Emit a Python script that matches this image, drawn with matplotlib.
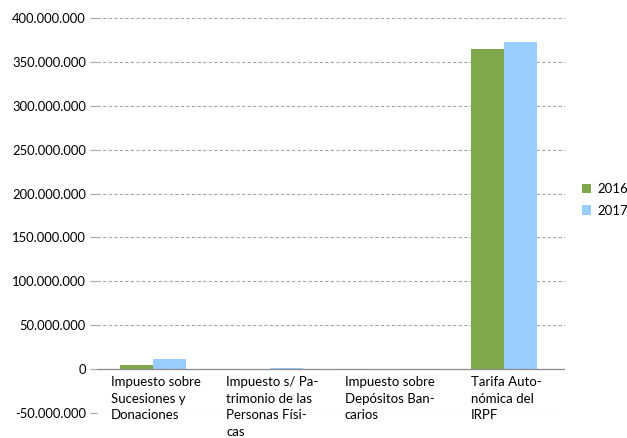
import matplotlib
matplotlib.use("Agg")
import matplotlib.pyplot as plt
import numpy as np
from matplotlib.ticker import FuncFormatter, MultipleLocator
from matplotlib.patches import Patch

categories = ["Impuesto sobre\nSucesiones y\nDonaciones",
              "Impuesto s/ Pa-\ntrimonio de las\nPersonas Físi-\ncas",
              "Impuesto sobre\nDepósitos Ban-\ncarios",
              "Tarifa Auto-\nnómica del\nIRPF"]
series_names = ["2016", "2017"]
values_2016 = [4600000, 400000, 200000, 364500000]
values_2017 = [11400000, 900000, 300000, 372500000]
colors = ["#7EA84A", "#99CCFF"]

plt.rcParams['font.family'] = ['Lato', 'DejaVu Sans']
fig = plt.figure(figsize=(6.27, 4.38), dpi=100)
ax = fig.add_axes([97/627, 1-413/438, (565-97)/627, (413-18)/438])

x = np.arange(len(categories))
w = 0.282
off = -0.02
ax.bar(x + off - w/2, values_2016, w, color=colors[0], zorder=3)
ax.bar(x + off + w/2, values_2017, w, color=colors[1], zorder=3)

ax.set_xlim(-0.5, len(categories) - 0.5)
ax.set_ylim(-50000000, 400000000)
ax.yaxis.set_major_locator(MultipleLocator(50000000))
ax.yaxis.set_major_formatter(FuncFormatter(lambda v, p: f"{int(v):,}".replace(",", ".")))
ax.grid(axis='y', color='#A6A6A6', linestyle=(0, (3, 2)), linewidth=0.8, zorder=0)
ax.axhline(0, color='#8C8C8C', linewidth=0.9, zorder=4)
for s in ax.spines.values():
    s.set_visible(False)
ax.tick_params(axis='y', length=5, color='#A6A6A6', labelsize=9.4, colors='#000000', pad=3)
ax.tick_params(axis='x', length=0, labelbottom=False)

for xi, lab in zip(x, categories):
    ax.annotate(lab, xy=(xi, 0), xycoords=('data', 'data'), xytext=(0, -5),
                textcoords='offset points', ha='center', va='top',
                multialignment='left', fontsize=9.5, linespacing=1.45)

handles = [Patch(facecolor=c, edgecolor='none', label=n) for c, n in zip(colors, series_names)]
fig.legend(handles=handles, loc='center left', bbox_to_anchor=(570/627, 1-200/438),
           frameon=False, fontsize=9.5, handlelength=0.7, handleheight=0.7,
           handletextpad=0.5, labelspacing=0.7)

fig.savefig("out.png", dpi=100)
